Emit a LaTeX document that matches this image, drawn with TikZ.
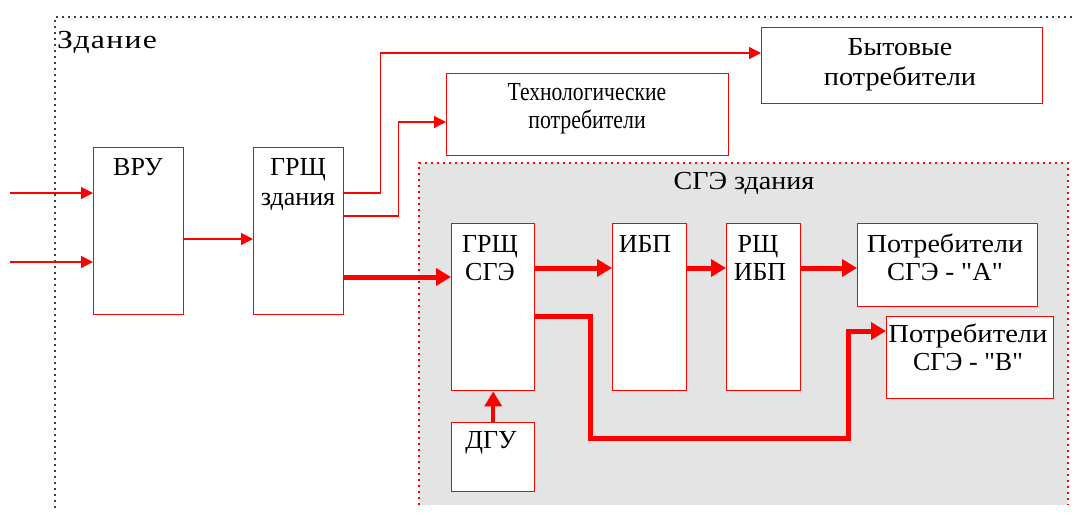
\documentclass[tikz,border=0pt]{standalone}
\usepackage{fontspec}
\usepackage{graphicx}
\setmainfont{Liberation Serif}[Ligatures=TeXOff]
\newfontfamily\spacedfnt{Liberation Serif}[Ligatures=TeXOff,LetterSpace=4]
\usetikzlibrary{arrows.meta}
\definecolor{sgegray}{HTML}{E4E4E4}
\newcommand{\sx}[2]{\scalebox{#1}[1]{#2}}
\begin{document}
\begin{tikzpicture}[x=1pt,y=-1pt,
  box/.style={draw=red, line width=1.4pt, fill=white, inner sep=0, anchor=north west},
  lbl/.style={inner sep=0, anchor=base, font=\fontsize{26}{26}\selectfont},
  thinar/.style={draw=red, line width=1.3pt, -{Triangle[length=12pt,width=12pt]}},
  thickar/.style={draw=red, line width=5pt, -{Triangle[length=15pt,width=17pt]}},
  bdot/.style={draw=black!75, line width=1.6pt, dash pattern=on 1.6pt off 4.4pt},
  rdot/.style={draw=red, line width=1.4pt, dash pattern=on 2pt off 4pt}]
\useasboundingbox (0,0) rectangle (1072,515);
% building frame
\coordinate (fr-tl) at (55,17);
\draw[bdot] (1072,17) -- (fr-tl) -- (55,510);
\node[inner sep=0, anchor=base west, font=\spacedfnt\fontsize{26}{26}\selectfont] (zd) at (57,48) {\sx{1.22}{Здание}};
% SGE region
\fill[sgegray] (419,163) rectangle (1068,505);
\draw[rdot] (419,505) -- (419,163) -- (1068,163) -- (1068,505);
\node[lbl] (sgetitle) at (744,189) {\sx{1.08}{СГЭ здания}};
% boxes
\node[box, minimum width=90pt, minimum height=167pt] (vru) at (93,147) {};
\node[box, minimum width=90pt, minimum height=167pt] (grz) at (253,147) {};
\node[box, minimum width=282pt, minimum height=82pt] (teh) at (446,73) {};
\node[box, minimum width=281pt, minimum height=76pt] (byt) at (761,27) {};
\node[box, minimum width=83pt, minimum height=167pt] (gsg) at (451,223) {};
\node[box, minimum width=74pt, minimum height=167pt] (ibp) at (612,223) {};
\node[box, minimum width=74pt, minimum height=167pt] (rsh) at (726,223) {};
\node[box, minimum width=180pt, minimum height=83pt] (pa) at (857,223) {};
\node[box, minimum width=167pt, minimum height=82pt] (pb) at (886,316) {};
\node[box, minimum width=83pt, minimum height=69pt] (dgu) at (451,422) {};
% labels
\node[lbl] (vru-t) at (138,175) {ВРУ};
\node[lbl] (grz-t1) at (298,175) {ГРЩ};
\node[lbl] (grz-t2) at (298,205) {здания};
\node[lbl] (teh-t1) at (587,100) {\sx{0.83}{Технологические}};
\node[lbl] (teh-t2) at (587,128) {\sx{0.84}{потребители}};
\node[lbl] (byt-t1) at (900,55) {\sx{1.07}{Бытовые}};
\node[lbl] (byt-t2) at (900,85) {\sx{1.09}{потребители}};
\node[lbl] (gsg-t1) at (490,252) {ГРЩ};
\node[lbl] (gsg-t2) at (490,280) {СГЭ};
\node[lbl] (ibp-t) at (645,252) {ИБП};
\node[lbl] (rsh-t1) at (758,252) {РЩ};
\node[lbl] (rsh-t2) at (760,280) {ИБП};
\node[lbl] (pa-t1) at (945,252) {\sx{1.08}{Потребители}};
\node[lbl] (pa-t2) at (945,280) {\sx{1.04}{СГЭ - "А"}};
\node[lbl] (pb-t1) at (968,342) {\sx{1.1}{Потребители}};
\node[lbl] (pb-t2) at (968,370) {\sx{1.0}{СГЭ - "В"}};
\node[lbl] (dgu-t) at (491,448) {ДГУ};
% inputs
\coordinate (in1) at (10,193);
\coordinate (in2) at (10,262);
\draw[thinar] (in1) -- (in1 -| vru.west);
\draw[thinar] (in2) -- (in2 -| vru.west);
% thin connectors
\draw[thinar] ([yshift=-92pt]vru.north east) -- ([yshift=-92pt]grz.north west);
\draw[thinar] ([yshift=-46pt]grz.north east) -- ++(36,0) |- ([yshift=-26pt]byt.north west);
\draw[thinar] ([yshift=-69pt]grz.north east) -- ++(54,0) |- ([yshift=-49pt]teh.north west);
% thick connectors
\draw[thickar] ([yshift=-130pt]grz.north east) -- ([yshift=-54pt]gsg.north west);
\draw[thickar] ([yshift=-45pt]gsg.north east) -- ([yshift=-45pt]ibp.north west);
\draw[thickar] ([yshift=-45pt]ibp.north east) -- ([yshift=-45pt]rsh.north west);
\draw[thickar] ([yshift=-45pt]rsh.north east) -- ([yshift=-45pt]pa.north west);
\draw[thickar] ([yshift=-93pt]gsg.north east) -- ++(55,0) -- ++(0,122) -| ([xshift=-38pt,yshift=-15pt]pb.north west) -- ([yshift=-15pt]pb.north west);
\draw[thickar, line width=4pt] (dgu.north) -- (gsg.south);
\end{tikzpicture}
\end{document}
